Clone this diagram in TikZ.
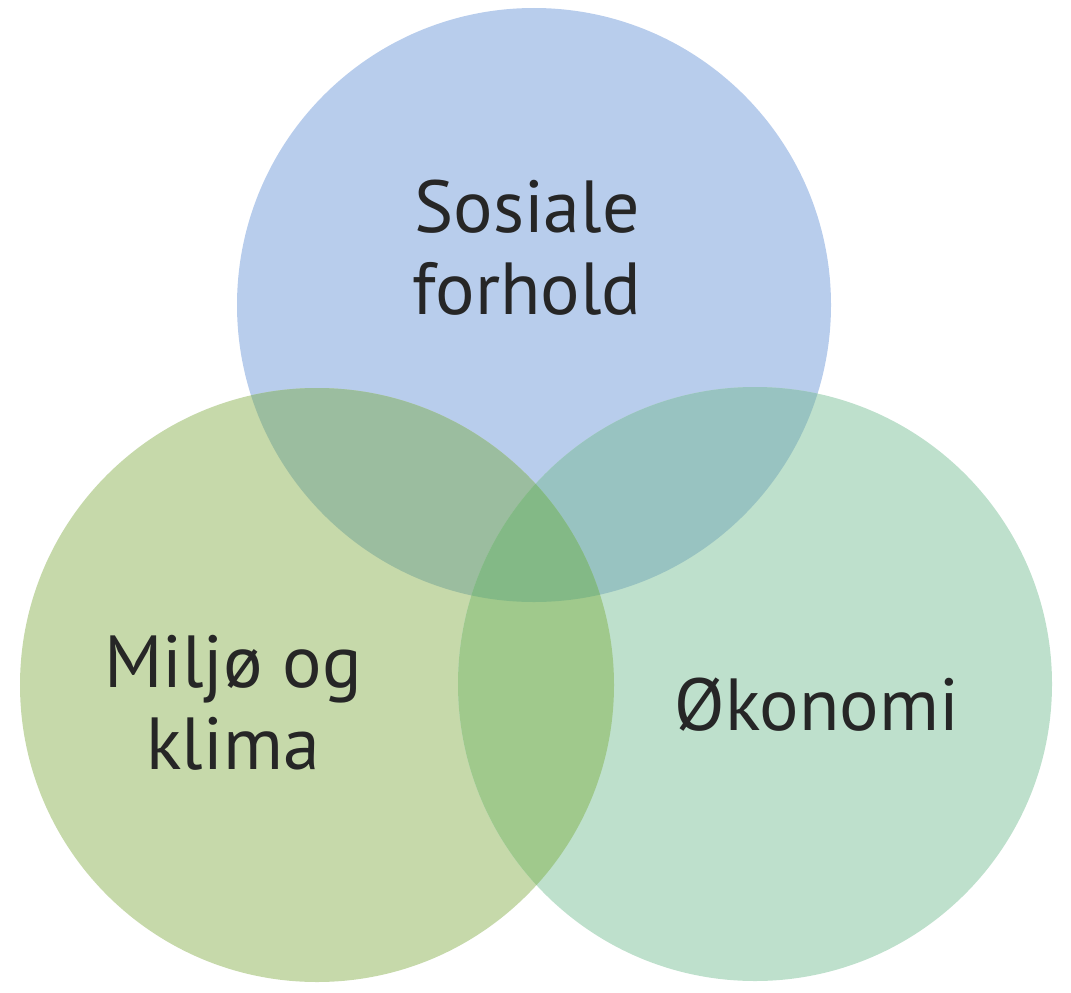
\documentclass[tikz,border=0pt]{standalone}
\usepackage{fontspec}
\setmainfont{PT Sans}
\usepackage{xcolor}

\definecolor{sosialeblue}{HTML}{B8CDEC}
\definecolor{miljogreen}{HTML}{C6D9AA}
\definecolor{okonomigreen}{HTML}{BEE0CC}
\definecolor{sosmil}{HTML}{9BBD9F}
\definecolor{sosoko}{HTML}{98C3C1}
\definecolor{miloko}{HTML}{A0C98C}
\definecolor{alle}{HTML}{83B986}

\begin{document}
\begin{tikzpicture}

            \tikzset{venntext/.style={text=black!85, align=center, inner sep=0pt,
                     font=\fontsize{21}{23.3}\selectfont}}

            \useasboundingbox (0,0) rectangle (10.71,9.92);

            % the three circles
            \fill [sosialeblue]  (5.34,6.87) circle[radius=2.97];
            \fill [miljogreen]   (3.17,3.07) circle[radius=2.97];
            \fill [okonomigreen] (7.55,3.08) circle[radius=2.97];

            % pairwise overlaps
            \begin{scope}
              \clip (5.34,6.87) circle[radius=2.97];
              \fill [sosmil] (3.17,3.07) circle[radius=2.97];
              \fill [sosoko] (7.55,3.08) circle[radius=2.97];
            \end{scope}
            \begin{scope}
              \clip (3.17,3.07) circle[radius=2.97];
              \fill [miloko] (7.55,3.08) circle[radius=2.97];
            \end{scope}

            % middle
            \begin{scope}
              \clip (5.34,6.87) circle[radius=2.97];
              \clip (3.17,3.07) circle[radius=2.97];
              \fill [alle] (7.55,3.08) circle[radius=2.97];
            \end{scope}

            \node [venntext] (sosiale) at (5.27,7.44) {Sosiale\\forhold};
            \node [venntext] (miljo)   at (2.33,2.89) {Miljø og\\klima};
            \node [venntext, anchor=base] (okonomi) at (8.17,2.62) {Økonomi};

        \end{tikzpicture}
\end{document}
